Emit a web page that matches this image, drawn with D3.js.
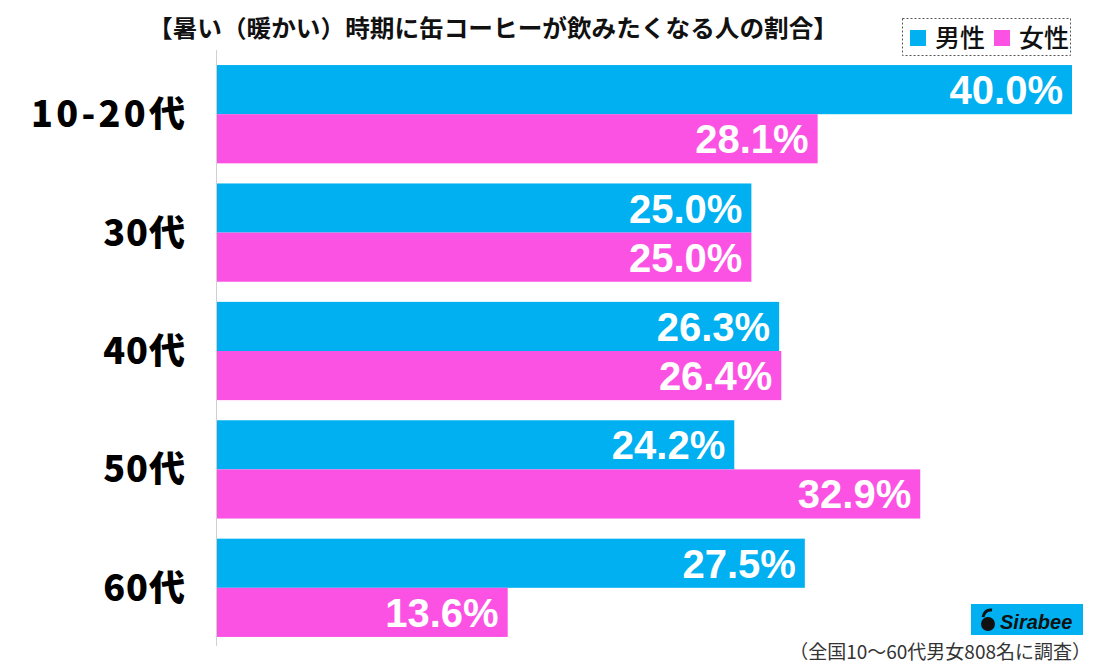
<!DOCTYPE html>
<html><head><meta charset="utf-8">
<script src="https://cdn.jsdelivr.net/npm/d3@7"></script>
<style>body{margin:0;background:#fff}svg{display:block}</style>
</head><body>
<svg id="c" width="1094" height="665"></svg>
<script>
const categories = ["10-20代","30代","40代","50代","60代"];
const male = [40.0, 25.0, 26.3, 24.2, 27.5];
const female = [28.1, 25.0, 26.4, 32.9, 13.6];
const seriesNames = ["男性","女性"];
const colors = ["#00b0f0","#fb52e4"];
const title = "【暑い（暖かい）時期に缶コーヒーが飲みたくなる人の割合】";
const note = "（全国10～60代男女808名に調査）";

const svg = d3.select("#c");
const x0 = 217;
const x = d3.scaleLinear().domain([0,40]).range([x0,1072]);
const y = d3.scaleBand().domain(categories).range([55,647]).paddingInner(0.17).paddingOuter(0.085);
const sub = d3.scaleBand().domain([0,1]).range([0,y.bandwidth()]);

const jp = "'Noto Sans CJK JP','Noto Sans',sans-serif";

svg.append("text").attr("x",148).attr("y",37)
  .attr("font-family",jp).attr("font-weight",700).attr("font-size",24).attr("fill","#111")
  .attr("textLength",690).attr("lengthAdjust","spacingAndGlyphs").text(title);

// legend
const lg = svg.append("g");
lg.append("rect").attr("x",902.5).attr("y",18.5).attr("width",168).attr("height",37)
  .attr("fill","none").attr("stroke","#555").attr("stroke-dasharray","2,2").attr("stroke-width",1);
[[910,935],[994,1019]].forEach((p,i)=>{
  lg.append("rect").attr("x",p[0]).attr("y",30).attr("width",16).attr("height",16).attr("fill",colors[i]);
  lg.append("text").attr("x",p[1]).attr("y",47).attr("font-family",jp).attr("font-weight",500)
    .attr("font-size",25).attr("fill","#111").text(seriesNames[i]);
});

const data = categories.map((c,i)=>({c, v:[male[i],female[i]]}));
const g = svg.append("g");
data.forEach(d=>{
  d.v.forEach((v,j)=>{
    const yy = y(d.c)+sub(j);
    g.append("rect").attr("x",x0).attr("y",yy).attr("width",x(v)-x0).attr("height",sub.bandwidth()).attr("fill",colors[j]);
    g.append("text").attr("x",x(v)-9).attr("y",yy+sub.bandwidth()/2+14.5).attr("text-anchor","end")
      .attr("font-family","'Liberation Sans',Arial,sans-serif").attr("font-weight",700).attr("font-size",40)
      .attr("fill","#fff").text(v.toFixed(1)+"%");
  });
  const t = svg.append("text").attr("x",186).attr("y",y(d.c)+y.bandwidth()/2+13).attr("text-anchor","end")
    .attr("font-family",jp).attr("font-weight",900).attr("font-size",36).attr("fill","#000")
    .attr("letter-spacing",1).text(d.c);
  if (d.c.length > 3) t.attr("textLength",155).attr("lengthAdjust","spacing");
});

// axis line
svg.append("line").attr("x1",x0-0.5).attr("x2",x0-0.5).attr("y1",50).attr("y2",646).attr("stroke","#d0d0d0").attr("stroke-width",1);

// logo
const lo = svg.append("g");
lo.append("rect").attr("x",971).attr("y",604).attr("width",112).attr("height",31).attr("fill","#00b0f0");
lo.append("circle").attr("cx",988).attr("cy",624).attr("r",7).attr("fill","#111");
lo.append("path").attr("d","M983,617 q2,-8 9,-7").attr("fill","none").attr("stroke","#111").attr("stroke-width",3);
lo.append("text").attr("x",1000).attr("y",629).attr("font-family","'Liberation Sans',Arial,sans-serif")
  .attr("font-weight",700).attr("font-style","italic").attr("font-size",20).attr("fill","#111").text("Sirabee");

svg.append("text").attr("x",1091).attr("y",659).attr("text-anchor","end").attr("font-family",jp)
  .attr("font-size",19).attr("fill","#333").text(note);
</script>
</body></html>
